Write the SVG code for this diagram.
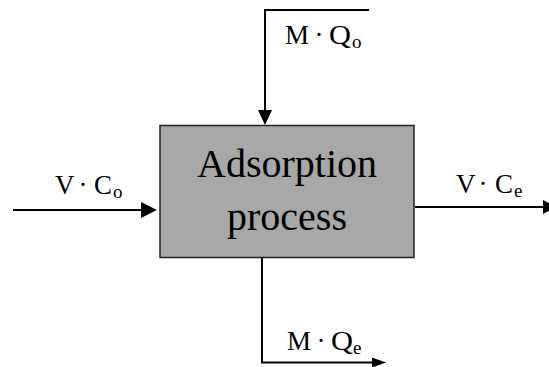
<svg xmlns="http://www.w3.org/2000/svg" width="549" height="367" viewBox="0 0 549 367">
<style>
.ln{fill:none;stroke:#000;stroke-width:2}
.ah{fill:#000;stroke:none}
.box{fill:#a8a8a8;stroke:#222;stroke-width:1.5}
text{font-family:'Liberation Serif','DejaVu Serif',serif;fill:#000}
.big{font-size:40px}
.m{font-size:27px}
.s{font-size:19px}
</style>
<rect width="549" height="367" fill="#fff"/>
<g id="connectors">
<polyline class="ln" points="369,10 265,10 265,112"/>
<polygon class="ah" points="258,110 272,110 265,125"/>
<line class="ln" x1="13" y1="210" x2="142" y2="210"/>
<polygon class="ah" points="141,202 141,218 157,210"/>
<line class="ln" x1="415" y1="207" x2="545" y2="207"/>
<polygon class="ah" points="543,200 543,214 556,207"/>
<polyline class="ln" points="262,258 262,362.5 373,362.5"/>
<polygon class="ah" points="372,357.5 372,367.5 386,362.5"/>
</g>
<g id="process">
<rect class="box" x="160" y="125.5" width="254" height="132"/>
<text class="big" x="287" y="177" text-anchor="middle">Adsorption</text>
<text class="big" x="287" y="230" text-anchor="middle">process</text>
</g>
<g id="label-MQo">
<text class="m" y="44"><tspan x="285">M</tspan><tspan x="319" text-anchor="middle">·</tspan><tspan x="329" textLength="22" lengthAdjust="spacingAndGlyphs">Q</tspan><tspan class="s" x="352" dy="4">o</tspan></text>
</g>
<g id="label-VCo">
<text class="m" y="194"><tspan x="55">V</tspan><tspan x="83" text-anchor="middle">·</tspan><tspan x="94">C</tspan><tspan class="s" x="113" dy="4">o</tspan></text>
</g>
<g id="label-VCe">
<text class="m" y="193"><tspan x="456">V</tspan><tspan x="483" text-anchor="middle">·</tspan><tspan x="495">C</tspan><tspan class="s" x="514" dy="4">e</tspan></text>
</g>
<g id="label-MQe">
<text class="m" y="350"><tspan x="287">M</tspan><tspan x="321" text-anchor="middle">·</tspan><tspan x="331" textLength="22" lengthAdjust="spacingAndGlyphs">Q</tspan><tspan class="s" x="353" dy="4">e</tspan></text>
</g>
</svg>
